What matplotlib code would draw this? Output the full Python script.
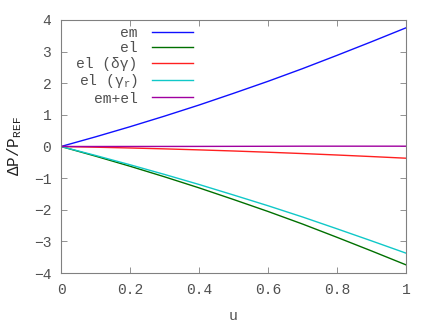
import matplotlib
matplotlib.use("Agg")
import matplotlib.pyplot as plt

# valores (u = 0 .. 1, paso 0.1)
u = [0.0, 0.1, 0.2, 0.3, 0.4, 0.5, 0.6, 0.7, 0.8, 0.9, 1.0]
em = [0.0, 0.305, 0.625, 0.96, 1.31, 1.68, 2.06, 2.46, 2.88, 3.31, 3.75]
el = [0.0, -0.305, -0.624, -0.958, -1.307, -1.675, -2.053, -2.45, -2.87, -3.30, -3.74]
el_dg = [0.0, -0.022, -0.047, -0.075, -0.107, -0.142, -0.181, -0.223, -0.269, -0.318, -0.37]
el_gr = [0.0, -0.283, -0.577, -0.883, -1.200, -1.533, -1.872, -2.227, -2.601, -2.982, -3.37]
em_el = [0.0, 0.0, 0.001, 0.002, 0.003, 0.005, 0.007, 0.01, 0.01, 0.01, 0.01]

series = [
    (em, "em", "#1010ff"),
    (el, "el", "#007000"),
    (el_dg, "el (δγ)", "#ff2020"),
    (el_gr, r"el (γ$_\mathregular{r}$)", "#10c8c8"),
    (em_el, "em+el", "#a000a0"),
]

x_ticks = [0, 0.2, 0.4, 0.6, 0.8, 1]
x_labels = ["0", "0.2", "0.4", "0.6", "0.8", "1"]
y_ticks = [-4, -3, -2, -1, 0, 1, 2, 3, 4]

plt.rcParams["font.family"] = ["Liberation Mono", "DejaVu Sans Mono"]
plt.rcParams["mathtext.fontset"] = "custom"
plt.rcParams["mathtext.rm"] = "Liberation Mono"
plt.rcParams["mathtext.it"] = "Liberation Mono"
plt.rcParams["font.size"] = 10.5

fig = plt.figure(figsize=(4.36, 3.27), dpi=100)
ax = fig.add_axes([0.140, 0.165, 0.791, 0.774])

for ys, name, col in series:
    ax.plot(u, ys, "-", color=col, linewidth=1.0, label=name)

ax.set_xlim(0, 1)
ax.set_ylim(-4, 4)
ax.set_xticks(x_ticks)
ax.set_xticklabels(x_labels)
ax.set_yticks(y_ticks)

for s in ax.spines.values():
    s.set_color("#808080")
    s.set_linewidth(0.8)
ax.tick_params(direction="in", top=True, right=True, length=4, width=0.6,
               color="#808080", labelcolor="#505050", pad=7)

ax.set_xlabel("u", color="#505050", labelpad=9)
ax.set_ylabel(r"ΔP/P$_\mathregular{REF}$", color="#202020", labelpad=7,
              fontsize=11.5)

leg = ax.legend(loc="upper right", bbox_to_anchor=(0.383, 0.977),
                markerfirst=False, frameon=False, borderpad=0,
                borderaxespad=0, handlelength=2.8, handletextpad=1.0,
                labelspacing=0.1)
for t in leg.get_texts():
    t.set_color("#505050")

fig.savefig("out.png", dpi=100)
